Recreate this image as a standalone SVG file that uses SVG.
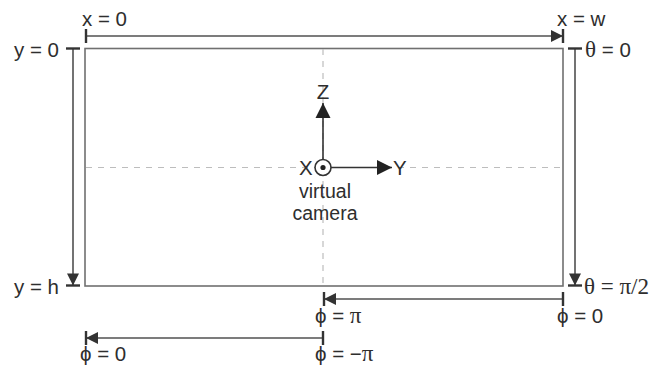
<svg xmlns="http://www.w3.org/2000/svg" width="665" height="367" viewBox="0 0 665 367">
<style>
.t{font-family:"Liberation Sans",Arial,sans-serif;font-size:20.5px;fill:#2e2e2e}
.c{font-size:19.5px}
.g{font-family:"Liberation Serif","Times New Roman",serif;font-size:23px}
.frame{fill:none;stroke:#707070;stroke-width:1.6}
.dash{stroke:#bdbdbd;stroke-width:1.2;stroke-dasharray:6 6;fill:none}
.ar{stroke:#505050;stroke-width:1.6;fill:none;marker-end:url(#tip);marker-start:url(#bar)}
.ax{stroke:#333;stroke-width:1.6;fill:none;marker-end:url(#head)}
</style>
<defs>
<marker id="tip" viewBox="-14 -8 16 16" markerWidth="16" markerHeight="16" refX="0" refY="0" markerUnits="userSpaceOnUse" orient="auto">
<path d="M-12,-6 L0,0 L-12,6 Z" fill="#333"/>
<rect x="-1.2" y="-7" width="2.4" height="14" fill="#333"/>
</marker>
<marker id="bar" viewBox="-8 -8 16 16" markerWidth="16" markerHeight="16" refX="0" refY="0" markerUnits="userSpaceOnUse" orient="auto">
<rect x="-1.2" y="-7" width="2.4" height="14" fill="#333"/>
</marker>
<marker id="head" viewBox="-16 -8 17 16" markerWidth="17" markerHeight="16" refX="0" refY="0" markerUnits="userSpaceOnUse" orient="auto">
<path d="M-15,-7.5 L0,0 L-15,7.5 Z" fill="#222"/>
</marker>
</defs>

<g id="image-plane">
<rect class="frame" x="85" y="48.5" width="478" height="237.5"/>
<line class="dash" x1="323" y1="49" x2="323" y2="286"/>
<line class="dash" x1="86" y1="167.5" x2="562" y2="167.5"/>
</g>

<g id="connectors">
<line class="ar" x1="86" y1="36" x2="563" y2="36"/>
<line class="ar" x1="73" y1="48.5" x2="73" y2="285.5"/>
<line class="ar" x1="575" y1="48.5" x2="575" y2="285.5"/>
<line class="ar" x1="563" y1="299" x2="324" y2="299"/>
<line class="ar" x1="323" y1="338" x2="86" y2="338"/>
</g>

<g id="virtual-camera">
<line class="ax" x1="323" y1="159" x2="323" y2="103"/>
<line class="ax" x1="331" y1="167.5" x2="392" y2="167.5"/>
<circle cx="323" cy="167.5" r="8" fill="#fff" stroke="#333" stroke-width="1.6"/>
<circle cx="323" cy="167.5" r="2.6" fill="#222"/>
<text class="t" x="323" y="99" text-anchor="middle">Z</text>
<text class="t" x="393" y="174.5">Y</text>
<text class="t" x="299" y="174.5">X</text>
<text class="t c" x="325" y="197.5" text-anchor="middle">virtual</text>
<text class="t c" x="325" y="219.5" text-anchor="middle">camera</text>
</g>

<g id="labels">
<text class="t" x="82" y="26">x = 0</text>
<text class="t" x="557" y="26">x = w</text>
<text class="t" x="14" y="57">y = 0</text>
<text class="t" x="14" y="294">y = h</text>
<text class="t" x="585" y="57"><tspan class="g">θ</tspan> = 0</text>
<text class="t" x="584" y="294"><tspan class="g">θ = π/2</tspan></text>
<text class="t" x="315" y="323">ϕ = <tspan class="g">π</tspan></text>
<text class="t" x="557" y="323">ϕ = 0</text>
<text class="t" x="80" y="361">ϕ = 0</text>
<text class="t" x="315" y="361">ϕ = −<tspan class="g">π</tspan></text>
</g>
</svg>
